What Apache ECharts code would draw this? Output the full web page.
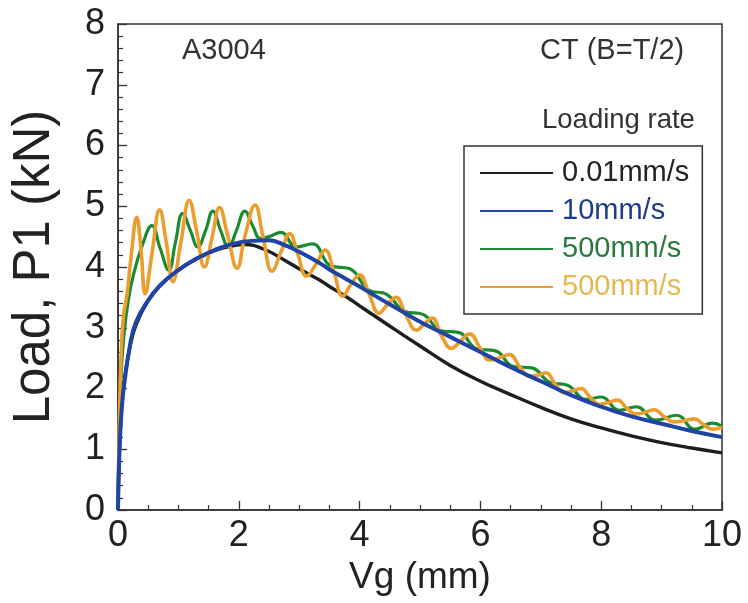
<!DOCTYPE html>
<html>
<head>
<meta charset="utf-8">
<script src="https://cdn.jsdelivr.net/npm/echarts@6/dist/echarts.min.js"></script>
<style>
html,body{margin:0;padding:0;background:#fff;}
#chart{width:748px;height:603px;}
</style>
</head>
<body>
<div id="chart"></div>
<script>
// ---- data (Vg in mm, Load P1 in kN) ----
const seriesNames = ['0.01mm/s', '10mm/s', '500mm/s', '500mm/s '];
const xTicks = [0, 2, 4, 6, 8, 10];
const yTicks = [0, 1, 2, 3, 4, 5, 6, 7, 8];

const black001 = [
  [0,0],[0.01,0.6],[0.03,1.2],[0.06,1.7],[0.1,2.1],[0.2,2.7],[0.3,3.05],[0.5,3.45],[0.7,3.7],
  [1.0,3.95],[1.3,4.13],[1.6,4.27],[1.9,4.35],[2.1,4.37],[2.4,4.3],[2.78,4.1],[3.0,3.97],
  [3.33,3.79],[3.5,3.68],[3.78,3.51],[4.0,3.36],[4.3,3.16],[4.6,2.96],[5.0,2.7],[5.5,2.38],
  [6.0,2.12],[6.5,1.9],[7.0,1.69],[7.5,1.5],[8.0,1.35],[8.5,1.22],[9.0,1.11],[9.5,1.02],[10,0.94]
];
const blue10 = [
  [0,0],[0.01,0.5],[0.03,1.1],[0.06,1.65],[0.1,2.05],[0.2,2.72],[0.3,3.1],[0.5,3.45],[0.7,3.7],
  [1.0,3.95],[1.3,4.14],[1.6,4.28],[1.9,4.38],[2.2,4.43],[2.5,4.44],[2.78,4.35],[3.0,4.25],
  [3.33,4.07],[3.5,3.96],[3.78,3.8],[4.0,3.68],[4.3,3.5],[4.6,3.33],[5.0,3.1],[5.5,2.85],
  [6.0,2.6],[6.5,2.35],[7.0,2.12],[7.5,1.89],[8.0,1.7],[8.5,1.54],[9.0,1.42],[9.5,1.3],[10,1.2]
];
const green500 = [
  [0,0],[0.02,1.2],[0.05,2.2],[0.1,2.9],[0.17,3.45],[0.25,3.85],[0.4,4.35],[0.56,4.68],[0.7,4.3],
  [0.84,3.95],[0.95,4.4],[1.07,4.88],[1.2,4.6],[1.32,4.33],[1.45,4.6],[1.57,4.92],[1.7,4.6],
  [1.83,4.33],[1.96,4.6],[2.1,4.92],[2.23,4.68],[2.36,4.47],[2.5,4.5],[2.7,4.57],[2.95,4.33],
  [3.22,4.38],[3.52,4.02],[3.84,3.97],[4.15,3.62],[4.45,3.55],[4.75,3.27],[5.05,3.22],[5.35,2.95],
  [5.65,2.92],[5.95,2.65],[6.25,2.62],[6.55,2.36],[6.85,2.34],[7.15,2.1],[7.45,2.05],[7.75,1.82],
  [8.0,1.86],[8.3,1.64],[8.58,1.7],[8.9,1.48],[9.25,1.56],[9.55,1.33],[9.84,1.43],[10,1.38]
];
const orange500 = [
  [0,0],[0.02,1.3],[0.05,2.5],[0.09,3.2],[0.15,3.55],[0.22,4.2],[0.31,4.82],[0.38,4.3],[0.45,3.56],
  [0.56,4.2],[0.69,4.94],[0.8,4.4],[0.91,3.76],[1.04,4.4],[1.18,5.1],[1.3,4.6],[1.43,4.0],
  [1.56,4.5],[1.68,4.98],[1.82,4.5],[1.97,3.98],[2.1,4.5],[2.27,5.02],[2.4,4.5],[2.55,3.93],
  [2.7,4.25],[2.84,4.55],[2.98,4.2],[3.12,3.85],[3.28,4.05],[3.43,4.28],[3.58,3.9],[3.72,3.52],
  [3.86,3.72],[4.0,3.87],[4.16,3.55],[4.32,3.24],[4.46,3.38],[4.6,3.5],[4.77,3.2],[4.94,2.96],
  [5.07,3.06],[5.2,3.16],[5.36,2.86],[5.52,2.66],[5.67,2.78],[5.82,2.9],[6.0,2.66],[6.15,2.47],
  [6.3,2.5],[6.48,2.56],[6.65,2.36],[6.81,2.2],[6.95,2.22],[7.09,2.26],[7.23,2.08],[7.38,1.93],
  [7.52,1.96],[7.67,2.0],[7.82,1.85],[7.97,1.74],[8.12,1.77],[8.27,1.81],[8.42,1.68],[8.58,1.58],
  [8.73,1.61],[8.88,1.65],[9.04,1.54],[9.2,1.45],[9.37,1.47],[9.54,1.5],[9.7,1.4],[9.85,1.33],[10,1.36]
];

const FONT = "'Liberation Sans', Arial, Helvetica, sans-serif";
const colors = ['#1e1e1e', '#1f44a3', '#1c8a30', '#eb9e2e'];
const legendTextColors = ['#222222', '#1f3c8c', '#2a7a40', '#e4b955'];

const chart = echarts.init(document.getElementById('chart'), null, {renderer: 'canvas'});

function lineSeries(name, data, color, width, z) {
  return {
    name: name, type: 'line', data: data, symbol: 'none', smooth: 0.45,
    z: z, lineStyle: {color: color, width: width}, itemStyle: {color: color},
    emphasis: {disabled: true}, animation: false
  };
}

const option = {
  animation: false,
  backgroundColor: '#ffffff',
  textStyle: {fontFamily: FONT},
  grid: {left: 118, right: 26, top: 24, bottom: 93, show: true, borderColor: '#333', borderWidth: 1.5, backgroundColor: 'transparent'},
  xAxis: {
    type: 'value', min: xTicks[0], max: xTicks[xTicks.length - 1], interval: 2,
    name: 'Vg (mm)', nameLocation: 'middle', nameGap: 47,
    nameTextStyle: {fontSize: 37, color: '#222', fontFamily: FONT},
    axisLine: {lineStyle: {color: '#333', width: 1.5}},
    axisTick: {inside: true, length: 9, lineStyle: {color: '#333', width: 1.3}},
    minorTick: {show: true, splitNumber: 4, length: 5, lineStyle: {color: '#333', width: 1.2}},
    axisLabel: {fontSize: 36, color: '#222', margin: 8, fontFamily: FONT},
    splitLine: {show: false}
  },
  yAxis: {
    type: 'value', min: yTicks[0], max: yTicks[yTicks.length - 1], interval: 1,
    name: 'Load, P1 (kN)', nameLocation: 'middle', nameGap: 58,
    nameTextStyle: {fontSize: 51, color: '#222', fontFamily: FONT},
    axisLine: {lineStyle: {color: '#333', width: 1.5}},
    axisTick: {inside: true, length: 9, lineStyle: {color: '#333', width: 1.3}},
    minorTick: {show: true, splitNumber: 5, length: 5, lineStyle: {color: '#333', width: 1.2}},
    axisLabel: {fontSize: 36, color: '#222', margin: 13, fontFamily: FONT},
    splitLine: {show: false}
  },
  legend: {
    orient: 'vertical', left: 464, top: 146,
    padding: [12, 13, 12, 16], itemGap: 8,
    itemWidth: 73, itemHeight: 14,
    borderColor: '#333', borderWidth: 1.5, backgroundColor: '#fff',
    icon: 'path://M0,6 L73,6 L73,8 L0,8 Z',
    selectedMode: false,
    formatter: function (n) { return n.trim(); },
    textStyle: {fontSize: 29, fontFamily: FONT, lineHeight: 30, padding: [0, 0, 0, 4]},
    data: seriesNames.map(function (n, i) {
      return {name: n, itemStyle: {color: colors[i]}, textStyle: {color: legendTextColors[i]}};
    })
  },
  graphic: [
    {type: 'text', left: 182, top: 36, style: {text: 'A3004', font: '29px ' + FONT, fill: '#333'}},
    {type: 'text', left: 540, top: 36, style: {text: 'CT (B=T/2)', font: '29px ' + FONT, fill: '#333'}},
    {type: 'text', left: 542, top: 106, style: {text: 'Loading rate', font: '27.5px ' + FONT, fill: '#333'}}
  ],
  series: [
    lineSeries(seriesNames[0], black001, colors[0], 3.4, 2),
    lineSeries(seriesNames[2], green500, colors[2], 3.2, 3),
    lineSeries(seriesNames[3], orange500, colors[3], 3.6, 4),
    lineSeries(seriesNames[1], blue10, colors[1], 4, 5)
  ]
};
chart.setOption(option);
</script>
</body>
</html>
